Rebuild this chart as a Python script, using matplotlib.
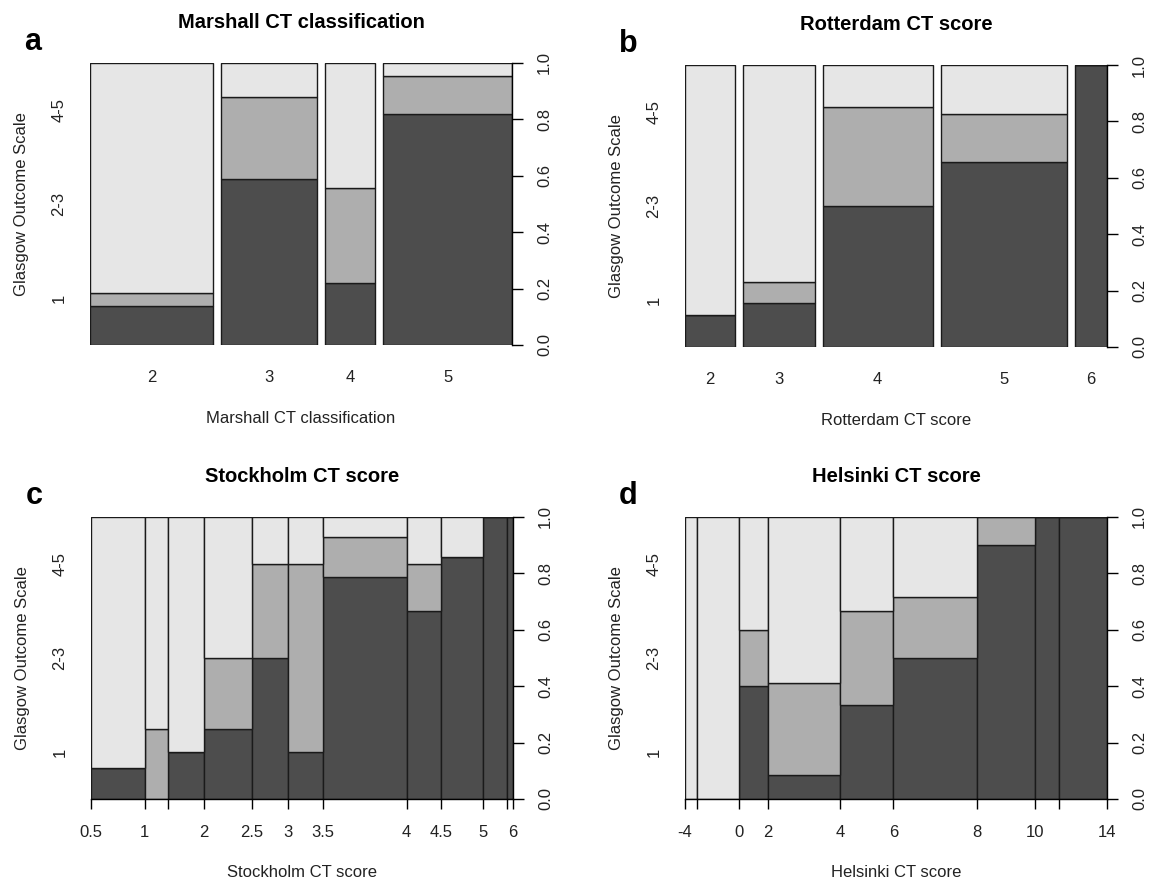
import numpy as np
import matplotlib.pyplot as plt
from matplotlib.transforms import blended_transform_factory

plt.rcParams['font.family'] = ['Liberation Sans', 'DejaVu Sans']

gos_labels = ['1', '2-3', '4-5']
gos_colors = ['#4D4D4D', '#AEAEAE', '#E6E6E6']
ylab = 'Glasgow Outcome Scale'

# a - Marshall CT classification (share of patients, GOS 1 and GOS 2-3 proportions)
marshall_cats = ['2', '3', '4', '5']
marshall_share = [0.309, 0.240, 0.127, 0.323]
marshall_gos1 = [0.14, 0.59, 0.22, 0.82]
marshall_gos23 = [0.045, 0.29, 0.335, 0.135]

# b - Rotterdam CT score
rotterdam_cats = ['2', '3', '4', '5', '6']
rotterdam_share = [0.128, 0.184, 0.282, 0.323, 0.083]
rotterdam_gos1 = [0.112, 0.155, 0.50, 0.655, 1.0]
rotterdam_gos23 = [0.0, 0.075, 0.35, 0.172, 0.0]

# c - Stockholm CT score (binned)
stockholm_breaks = ['0.5', '1', '1.5', '2', '2.5', '3', '3.5', '4', '4.5', '5', '5.5', '6']
stockholm_shown = ['0.5', '1', '2', '2.5', '3', '3.5', '4', '4.5', '5', '6']
stockholm_share = [0.127, 0.055, 0.085, 0.114, 0.085, 0.084, 0.198, 0.082, 0.100, 0.056, 0.014]
stockholm_gos1 = [0.111, 0.0, 0.167, 0.25, 0.5, 0.167, 0.786, 0.667, 0.857, 1.0, 1.0]
stockholm_gos23 = [0.0, 0.25, 0.0, 0.25, 0.333, 0.667, 0.143, 0.167, 0.0, 0.0, 0.0]

# d - Helsinki CT score (binned)
helsinki_breaks = ['-4', '-2', '0', '2', '4', '6', '8', '10', '12', '14']
helsinki_shown = ['-4', '0', '2', '4', '6', '8', '10', '14']
helsinki_share = [0.028, 0.100, 0.069, 0.171, 0.126, 0.198, 0.138, 0.056, 0.114]
helsinki_gos1 = [0.0, 0.0, 0.40, 0.085, 0.335, 0.50, 0.90, 1.0, 1.0]
helsinki_gos23 = [0.0, 0.0, 0.20, 0.328, 0.33, 0.215, 0.10, 0.0, 0.0]

txt = '#222222'


def spineplot(rect, letter, title, share, gos1, gos23, cats=None, breaks=None, shown=None):
    ax = fig.add_axes(rect)
    share = np.asarray(share, dtype=float)
    share = share / share.sum()
    n = len(share)
    gap = 0.02 if cats is not None else 0.0
    lefts = np.concatenate([[0], np.cumsum(share)[:-1]]) + gap * np.arange(n)
    g1 = np.asarray(gos1)
    g23 = np.asarray(gos23)
    g45 = 1 - g1 - g23
    bottom = np.zeros(n)
    for vals, col in zip([g1, g23, g45], gos_colors):
        ax.bar(lefts, vals, width=share, bottom=bottom, align='edge', color=col,
               edgecolor='#1a1a1a', linewidth=1.0)
        bottom = bottom + vals
    right = lefts[-1] + share[-1]
    ax.set_xlim(0, right)
    ax.set_ylim(0, 1)
    ax.margins(0)

    for s in ['top', 'left', 'bottom']:
        ax.spines[s].set_visible(False)
    ax.spines['right'].set_linewidth(1.0)
    ax.yaxis.tick_right()
    yt = np.linspace(0, 1, 6)
    ax.set_yticks(yt, labels=['%.1f' % v for v in yt], rotation=90, va='center')
    ax.tick_params(axis='y', direction='out', length=8, width=1, pad=10,
                   labelsize=12, labelcolor=txt)

    if cats is not None:
        ax.set_xticks(lefts + share / 2, labels=cats)
        ax.tick_params(axis='x', length=0, pad=18, labelsize=12, labelcolor=txt)
    else:
        pos = np.concatenate([[0], np.cumsum(share)])
        ax.spines['bottom'].set_visible(True)
        ax.spines['bottom'].set_linewidth(1.0)
        ax.set_xticks(pos, labels=[b if b in shown else '' for b in breaks])
        ax.tick_params(axis='x', direction='out', length=7.5, width=1, pad=11,
                       labelsize=12, labelcolor=txt)

    # left GOS labels, evenly spaced
    tr = blended_transform_factory(ax.transAxes, ax.transData)
    for i, lab in enumerate(gos_labels):
        ax.text(-0.074, (i + 0.5) / 3, lab, transform=tr, rotation=90,
                ha='center', va='center', fontsize=12, color=txt)
    ax.text(-0.162, 0.5, ylab, transform=ax.transAxes, rotation=90,
            ha='center', va='center', fontsize=12, color=txt)
    ax.text(0.5, -0.259, title, transform=ax.transAxes, ha='center', va='center',
            fontsize=12, color=txt)
    ax.text(0.5, 1.145, title, transform=ax.transAxes, ha='center', va='center',
            fontsize=14.5, fontweight='bold')
    ax.text(-0.135, 1.075, letter, transform=ax.transAxes, ha='center', va='center',
            fontsize=22, fontweight='bold')
    return ax


fig = plt.figure(figsize=(11.49, 8.83), dpi=100)
W, H = 1149, 883
aw, ah = 422 / W, 282 / H

spineplot([90 / W, 1 - 345 / H, aw, ah], 'a', 'Marshall CT classification',
          marshall_share, marshall_gos1, marshall_gos23, cats=marshall_cats)
spineplot([685 / W, 1 - 347 / H, aw, ah], 'b', 'Rotterdam CT score',
          rotterdam_share, rotterdam_gos1, rotterdam_gos23, cats=rotterdam_cats)
spineplot([91 / W, 1 - 799 / H, aw, ah], 'c', 'Stockholm CT score',
          stockholm_share, stockholm_gos1, stockholm_gos23,
          breaks=stockholm_breaks, shown=stockholm_shown)
spineplot([685 / W, 1 - 799 / H, aw, ah], 'd', 'Helsinki CT score',
          helsinki_share, helsinki_gos1, helsinki_gos23,
          breaks=helsinki_breaks, shown=helsinki_shown)

fig.savefig('out.png', dpi=100)
